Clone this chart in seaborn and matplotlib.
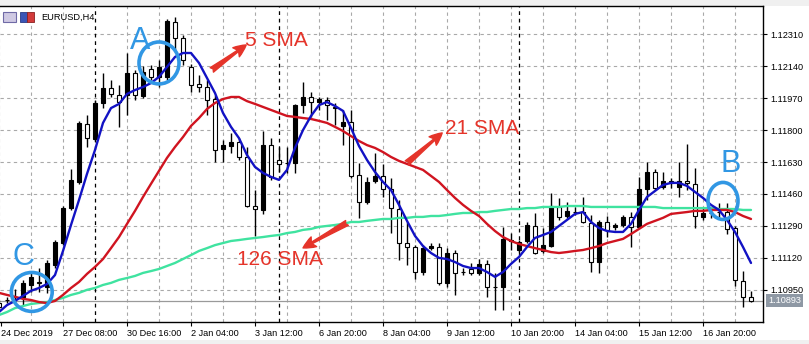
import matplotlib
matplotlib.use("Agg")
import matplotlib.pyplot as plt
import matplotlib.transforms as mtransforms
from matplotlib.patches import Ellipse, Rectangle, FancyArrowPatch
import seaborn as sns
import numpy as np
import pandas as pd

sns.set_theme(style="white")
plt.rcParams['font.family'] = ['Liberation Sans', 'DejaVu Sans']

# ---------------- data (EURUSD H4) ----------------
bar_index = list(range(95))

opens = [1.10880, 1.10896, 1.10913, 1.10913, 1.10976, 1.10992, 1.10966, 1.11082, 1.11199, 1.11385,
         1.11524, 1.11833, 1.11752, 1.11944, 1.12023, 1.11986, 1.11986, 1.12104, 1.11981, 1.12125,
         1.12083, 1.12083, 1.12375, 1.12289, 1.12136, 1.12045, 1.12029, 1.11965, 1.11699, 1.11715,
         1.11736, 1.11657, 1.11396, 1.11375, 1.11720, 1.11641, 1.11625, 1.11625, 1.11933, 1.11976,
         1.11949, 1.11960, 1.11923, 1.11821, 1.11843, 1.11561, 1.11417, 1.11530, 1.11556, 1.11487,
         1.11380, 1.11199, 1.11178, 1.11045, 1.11172, 1.11178, 1.10987, 1.11146, 1.11045, 1.11061,
         1.11040, 1.11088, 1.10966, 1.10966, 1.11210, 1.11162, 1.11210, 1.11290, 1.11157, 1.11183,
         1.11391, 1.11343, 1.11364, 1.11364, 1.11306, 1.11098, 1.11311, 1.11285, 1.11295, 1.11338,
         1.11285, 1.11487, 1.11577, 1.11497, 1.11530, 1.11497, 1.11530, 1.11514, 1.11338, 1.11359,
         1.11364, 1.11364, 1.11279, 1.10997, 1.10913]

highs = [1.10896, 1.10913, 1.10955, 1.11003, 1.11040, 1.11066, 1.11109, 1.11215, 1.11396, 1.11593,
         1.11849, 1.11880, 1.11960, 1.12104, 1.12066, 1.12039, 1.12210, 1.12120, 1.12141, 1.12146,
         1.12173, 1.12391, 1.12401, 1.12305, 1.12152, 1.12093, 1.12066, 1.11986, 1.11747, 1.11784,
         1.11757, 1.11710, 1.11481, 1.11795, 1.11757, 1.11710, 1.11710, 1.11939, 1.12055, 1.12002,
         1.11976, 1.11976, 1.11944, 1.11907, 1.11907, 1.11625, 1.11551, 1.11678, 1.11620, 1.11546,
         1.11428, 1.11311, 1.11188, 1.11188, 1.11199, 1.11199, 1.11172, 1.11162, 1.11066, 1.11093,
         1.11114, 1.11109, 1.11040, 1.11285, 1.11252, 1.11215, 1.11311, 1.11360, 1.11279, 1.11465,
         1.11439, 1.11417, 1.11391, 1.11444, 1.11348, 1.11322, 1.11343, 1.11306, 1.11348, 1.11364,
         1.11551, 1.11630, 1.11593, 1.11577, 1.11546, 1.11630, 1.11726, 1.11598, 1.11385, 1.11391,
         1.11412, 1.11412, 1.11290, 1.11050, 1.10944]

lows = [1.10848, 1.10880, 1.10880, 1.10869, 1.10939, 1.10939, 1.10934, 1.11066, 1.11188, 1.11375,
        1.11514, 1.11710, 1.11742, 1.11917, 1.11976, 1.11817, 1.11880, 1.11960, 1.11970, 1.12066,
        1.12029, 1.12066, 1.12226, 1.12146, 1.12002, 1.12002, 1.11880, 1.11630, 1.11630, 1.11678,
        1.11641, 1.11391, 1.11237, 1.11354, 1.11535, 1.11577, 1.11572, 1.11572, 1.11891, 1.11870,
        1.11907, 1.11854, 1.11827, 1.11720, 1.11546, 1.11333, 1.11407, 1.11519, 1.11444, 1.11253,
        1.11109, 1.11082, 1.11008, 1.11029, 1.11162, 1.10976, 1.10966, 1.10923, 1.11029, 1.11029,
        1.11029, 1.10913, 1.10843, 1.10843, 1.11162, 1.11151, 1.11199, 1.11141, 1.11146, 1.11178,
        1.11322, 1.11333, 1.11348, 1.11306, 1.11045, 1.11040, 1.11231, 1.11269, 1.11285, 1.11178,
        1.11279, 1.11428, 1.11481, 1.11487, 1.11492, 1.11444, 1.11481, 1.11279, 1.11322, 1.11333,
        1.11338, 1.11247, 1.10971, 1.10859, 1.10885]

closes = [1.10859, 1.10896, 1.10913, 1.10987, 1.11019, 1.10987, 1.11093, 1.11204, 1.11385, 1.11535,
          1.11838, 1.11757, 1.11944, 1.12023, 1.11992, 1.11949, 1.12104, 1.11986, 1.12109, 1.12083,
          1.12136, 1.12381, 1.12289, 1.12173, 1.12039, 1.12029, 1.11960, 1.11694, 1.11720, 1.11736,
          1.11657, 1.11396, 1.11380, 1.11720, 1.11551, 1.11620, 1.11625, 1.11933, 1.11976, 1.11949,
          1.11965, 1.11933, 1.11917, 1.11843, 1.11556, 1.11417, 1.11524, 1.11556, 1.11487, 1.11385,
          1.11199, 1.11178, 1.11045, 1.11172, 1.11183, 1.10987, 1.11146, 1.11040, 1.11045, 1.11040,
          1.11088, 1.10966, 1.10966, 1.11221, 1.11215, 1.11204, 1.11295, 1.11146, 1.11188, 1.11396,
          1.11338, 1.11370, 1.11364, 1.11311, 1.11098, 1.11311, 1.11269, 1.11295, 1.11338, 1.11285,
          1.11487, 1.11577, 1.11492, 1.11530, 1.11519, 1.11530, 1.11519, 1.11343, 1.11359, 1.11359,
          1.11364, 1.11274, 1.11003, 1.10913, 1.10893]

sma5 = [1.10832, 1.10869, 1.10891, 1.10918, 1.10945, 1.10960, 1.10981, 1.11029, 1.11157, 1.11295,
        1.11428, 1.11567, 1.11694, 1.11838, 1.11917, 1.11939, 1.11992, 1.12013, 1.12029, 1.12050,
        1.12083, 1.12136, 1.12189, 1.12210, 1.12210, 1.12157, 1.12077, 1.11997, 1.11891, 1.11817,
        1.11757, 1.11667, 1.11604, 1.11572, 1.11551, 1.11535, 1.11588, 1.11705, 1.11800, 1.11875,
        1.11933, 1.11949, 1.11928, 1.11902, 1.11811, 1.11715, 1.11641, 1.11577, 1.11524, 1.11481,
        1.11402, 1.11317, 1.11237, 1.11183, 1.11146, 1.11120, 1.11114, 1.11098, 1.11077, 1.11066,
        1.11066, 1.11045, 1.11019, 1.11045, 1.11088, 1.11125, 1.11178, 1.11226, 1.11242, 1.11258,
        1.11290, 1.11322, 1.11354, 1.11364, 1.11311, 1.11279, 1.11263, 1.11258, 1.11258, 1.11301,
        1.11375, 1.11444, 1.11476, 1.11508, 1.11519, 1.11519, 1.11503, 1.11471, 1.11439, 1.11402,
        1.11375, 1.11322, 1.11258, 1.11178, 1.11093]

sma21 = [1.10934, 1.10923, 1.10913, 1.10902, 1.10896, 1.10885, 1.10880, 1.10891, 1.10923, 1.10960,
         1.10992, 1.11035, 1.11072, 1.11114, 1.11172, 1.11231, 1.11301, 1.11370, 1.11444, 1.11514,
         1.11583, 1.11652, 1.11710, 1.11763, 1.11822, 1.11864, 1.11912, 1.11944, 1.11965, 1.11976,
         1.11976, 1.11954, 1.11939, 1.11923, 1.11907, 1.11891, 1.11875, 1.11870, 1.11864, 1.11859,
         1.11849, 1.11838, 1.11817, 1.11795, 1.11768, 1.11742, 1.11720, 1.11705, 1.11683, 1.11657,
         1.11636, 1.11620, 1.11604, 1.11588, 1.11556, 1.11524, 1.11481, 1.11439, 1.11402, 1.11370,
         1.11343, 1.11301, 1.11263, 1.11231, 1.11210, 1.11194, 1.11183, 1.11172, 1.11162, 1.11151,
         1.11146, 1.11151, 1.11157, 1.11162, 1.11172, 1.11183, 1.11199, 1.11210, 1.11221, 1.11247,
         1.11274, 1.11301, 1.11317, 1.11333, 1.11354, 1.11359, 1.11364, 1.11370, 1.11370, 1.11375,
         1.11375, 1.11375, 1.11364, 1.11343, 1.11327]

sma126 = [1.10816, 1.10832, 1.10853, 1.10864, 1.10875, 1.10880, 1.10885, 1.10896, 1.10907, 1.10923,
          1.10934, 1.10950, 1.10960, 1.10976, 1.10987, 1.11003, 1.11013, 1.11024, 1.11040, 1.11050,
          1.11061, 1.11077, 1.11093, 1.11114, 1.11135, 1.11157, 1.11172, 1.11188, 1.11199, 1.11210,
          1.11215, 1.11221, 1.11226, 1.11231, 1.11237, 1.11242, 1.11252, 1.11258, 1.11269, 1.11274,
          1.11285, 1.11290, 1.11295, 1.11301, 1.11311, 1.11311, 1.11317, 1.11322, 1.11327, 1.11327,
          1.11333, 1.11333, 1.11338, 1.11338, 1.11343, 1.11343, 1.11348, 1.11354, 1.11359, 1.11359,
          1.11364, 1.11364, 1.11370, 1.11375, 1.11380, 1.11380, 1.11385, 1.11385, 1.11391, 1.11391,
          1.11391, 1.11396, 1.11396, 1.11396, 1.11391, 1.11391, 1.11391, 1.11391, 1.11391, 1.11391,
          1.11391, 1.11391, 1.11391, 1.11385, 1.11385, 1.11385, 1.11385, 1.11385, 1.11385, 1.11385,
          1.11380, 1.11380, 1.11380, 1.11375, 1.11375]

price_ticks = [1.10950, 1.11120, 1.11290, 1.11460, 1.11630, 1.11800, 1.11970, 1.12140, 1.12310]
time_tick_bars = [0.2, 8, 16, 24, 32, 40, 48, 56, 64, 72, 80, 88]
time_tick_labels = ["24 Dec 2019", "27 Dec 08:00", "30 Dec 16:00", "2 Jan 04:00", "3 Jan 12:00",
                    "6 Jan 20:00", "8 Jan 04:00", "9 Jan 12:00", "10 Jan 20:00", "14 Jan 04:00",
                    "15 Jan 12:00", "16 Jan 20:00"]
week_separator_bars = [12, 35, 65]
last_price = 1.10893
symbol_title = "EURUSD,H4"

df = pd.DataFrame({"bar": bar_index, "open": opens, "high": highs, "low": lows,
                   "close": closes, "sma5": sma5, "sma21": sma21, "sma126": sma126})

# ---------------- figure ----------------
W, H = 809, 344
fig = plt.figure(figsize=(W / 100, H / 100), dpi=100)
fig.patch.set_facecolor("white")
ax = fig.add_axes([0 / W, 22 / H, 763 / W, 316 / H])
ax.set_facecolor("white")
ax.set_xlim(0.125, 95.5)
ax.set_ylim(1.10779, 1.12460)

grid_col = "#a9a9a9"
for p in price_ticks:
    ax.axhline(p, color=grid_col, lw=0.8, ls=(0, (3, 3)), zorder=0)
for b in range(0, 96, 4):
    if b in week_separator_bars:
        continue
    ax.axvline(b, color=grid_col, lw=0.8, ls=(0, (3, 3)), zorder=0)
for b in week_separator_bars:
    ax.axvline(b, color="black", lw=0.9, ls=(0, (3, 3)), zorder=0.5)

ax.axhline(last_price, color="#9a9a9a", lw=0.9, zorder=0.6)

# candles
bull = df["close"] > df["open"]
ax.vlines(df["bar"], df["low"], df["high"], color="black", lw=1.0, zorder=2)
body_bottom = np.minimum(df["open"], df["close"])
body_height = np.abs(df["close"] - df["open"])
ax.bar(df["bar"], body_height, bottom=body_bottom, width=0.6,
       color=np.where(bull, "black", "white"), edgecolor="black", linewidth=0.8, zorder=3)

# moving averages
sns.lineplot(data=df, x="bar", y="sma126", color="#3fe3a0", lw=1.7, ax=ax, zorder=4)
sns.lineplot(data=df, x="bar", y="sma21", color="#d01420", lw=1.7, ax=ax, zorder=4)
sns.lineplot(data=df, x="bar", y="sma5", color="#1212c4", lw=1.7, ax=ax, zorder=5)

# axes styling
ax.yaxis.tick_right()
ax.set_yticks(price_ticks)
ax.set_yticklabels([f"{p:.5f}" for p in price_ticks])
ax.set_xticks(time_tick_bars)
ax.set_xticklabels(time_tick_labels)
for lbl in ax.get_xticklabels():
    lbl.set_ha("left")
ax.tick_params(axis="y", which="both", right=True, left=False, length=3, width=0.8,
               pad=2, labelsize=6.6, colors="black", direction="out")
ax.tick_params(axis="x", which="both", bottom=True, length=3, width=0.8,
               pad=2, labelsize=6.6, colors="black", direction="out")
ax.set_xlabel("")
ax.set_ylabel("")
for s in ["top", "right", "bottom"]:
    ax.spines[s].set_visible(True)
    ax.spines[s].set_color("black")
    ax.spines[s].set_linewidth(1.0)
ax.spines["left"].set_visible(False)
if ax.get_legend() is not None:
    ax.get_legend().remove()

# current price label
trans = mtransforms.blended_transform_factory(ax.transAxes, ax.transData)
ax.text(1.0 + 5 / 763, last_price, f"{last_price:.5f}", transform=trans, ha="left", va="center",
        fontsize=6.6, color="white", clip_on=False, zorder=10,
        bbox=dict(boxstyle="square,pad=0.18", fc="#8e98a4", ec="none"))

# annotations
circ = "#3197e4"
red = "#e5342a"
ax.add_patch(Ellipse((20.0, 1.12157), 5.0, 0.00223, fill=False, ec=circ, lw=2.6, zorder=8))
ax.add_patch(Ellipse((90.5, 1.11423), 3.75, 0.00197, fill=False, ec=circ, lw=2.6, zorder=8))
ax.add_patch(Ellipse((4.1, 1.10939), 5.1, 0.00207, fill=False, ec=circ, lw=2.6, zorder=8))
ax.text(17.6, 1.12274, "A", color=circ, fontsize=22, ha="center", va="center", zorder=9)
ax.text(91.4, 1.11620, "B", color=circ, fontsize=22, ha="center", va="center", zorder=9)
ax.text(3.0, 1.11125, "C", color=circ, fontsize=22, ha="center", va="center", zorder=9)

ax.text(30.75, 1.12279, "5 SMA", color=red, fontsize=15, ha="left", va="center", zorder=9)
ax.text(55.75, 1.11811, "21 SMA", color=red, fontsize=15, ha="left", va="center", zorder=9)
ax.text(29.75, 1.11114, "126 SMA", color=red, fontsize=15, ha="left", va="center", zorder=9)

arrow_style = "fancy,head_length=9,head_width=8,tail_width=4"
for (xa, ya), (xb, yb) in [((26.6, 1.12120), (30.9, 1.12253)),
                           ((51.0, 1.11625), (55.4, 1.11785)),
                           ((43.5, 1.11306), (38.0, 1.11173))]:
    ax.add_patch(FancyArrowPatch((xa, ya), (xb, yb), arrowstyle=arrow_style, color=red,
                                 mutation_scale=1, shrinkA=0, shrinkB=0, zorder=9))

# window frame strips and title bar
fig.patches.append(Rectangle((0, 338 / H), 1, 6 / H, transform=fig.transFigure,
                             fc="#f0f0f0", ec="none", zorder=-1))
fig.patches.append(Rectangle((0, 0), 1, 4 / H, transform=fig.transFigure,
                             fc="#f0f0f0", ec="none", zorder=-1))
fig.patches.append(Rectangle((3 / W, (H - 22) / H), 13 / W, 10 / H, transform=fig.transFigure,
                             fc="#cfc9e3", ec="#6f6aa6", lw=0.8, zorder=20))
fig.patches.append(Rectangle((20 / W, (H - 22) / H), 7 / W, 10 / H, transform=fig.transFigure,
                             fc="#3b55b5", ec="#2a3b85", lw=0.6, zorder=20))
fig.patches.append(Rectangle((27 / W, (H - 22) / H), 7 / W, 10 / H, transform=fig.transFigure,
                             fc="#d23a3a", ec="#8a2020", lw=0.6, zorder=20))
fig.text(41 / W, (H - 17) / H, symbol_title, fontsize=6.7, color="black", ha="left", va="center")

fig.savefig("out.png", dpi=100)
